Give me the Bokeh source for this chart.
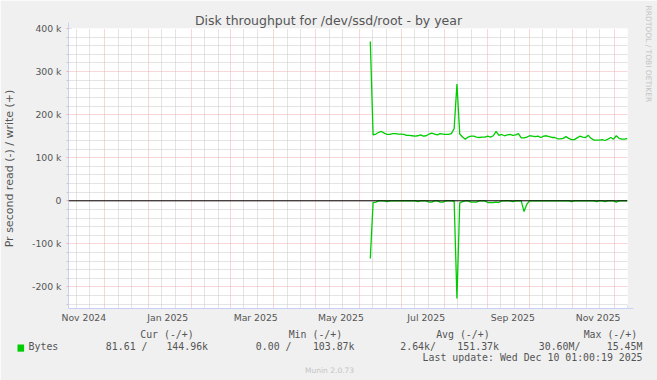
import numpy as np
import pandas as pd
from bokeh.plotting import figure
from bokeh.models import (FixedTicker, Grid, LinearAxis, Arrow, NormalHead, Label,
                          CustomJSTickFormatter, DatetimeTickFormatter, Range1d, Span)
from bokeh.embed import file_html
from bokeh.resources import INLINE

# ---------------- data ----------------
GRAPH_START = "2024-11-05 01:00:19"
GRAPH_END = "2025-12-10 01:00:19"
FIRST_SAMPLE = "2025-06-09"
SAMPLE_STEP = "2D"

# write (+) bytes/s, thousands
write_k = [370, 153, 155, 159, 161, 157, 154, 154, 156, 156,
           155, 155, 154, 152, 152, 151, 150, 151, 153, 150,
           151, 155, 157, 155, 153, 156, 155, 154, 154, 156,
           168, 271, 155, 148, 143, 148, 150, 150, 148, 147,
           148, 148, 150, 148, 151, 161, 152, 154, 151, 153,
           154, 152, 153, 156, 146, 146, 148, 151, 150, 149,
           150, 147, 150, 151, 149, 147, 147, 144, 144, 145,
           149, 145, 142, 142, 146, 150, 148, 147, 152, 145,
           141, 141, 141, 142, 140, 143, 147, 143, 151, 145,
           143, 143, 144.96]

# read (-) bytes/s, thousands (drawn negative)
read_k = [-134, -4, -3, -0.3, -0.3, -0.3, -2, -0.3, -0.3, -0.3,
          -0.3, -0.3, -0.3, -0.3, -0.3, -0.3, -0.3, -2, -0.3, -0.3,
          -0.3, -3, -3, -0.3, -0.3, -3, -3, -0.3, -0.3, -0.3,
          -0.5, -227, -5, -2, -0.3, -0.3, -3, -3, -3, -0.3,
          -0.3, -0.3, -4, -4, -4, -3, -4, -0.3, -0.3, -0.3,
          -0.3, -2, -0.3, -0.3, -0.3, -25, -8, -0.3, -0.3, -0.3,
          -0.3, -0.3, -0.3, -0.3, -0.3, -0.3, -0.3, -0.3, -0.3, -0.3,
          -0.3, -0.3, -2, -0.3, -0.3, -0.3, -0.3, -0.3, -0.3, -0.3,
          -0.3, -2, -0.3, -0.3, -2, -0.3, -0.3, -0.3, -3, -0.3,
          -0.3, -0.3, -0.08]

x_tick_dates = ["2024-11-16", "2025-01-15", "2025-03-19", "2025-05-19",
                "2025-07-19", "2025-09-19", "2025-11-19"]
y_ticks = [-200000, -100000, 0, 100000, 200000, 300000, 400000]
Y_MIN, Y_MAX = -250000, 400000

legend_header = ["Cur (-/+)", "Min (-/+)", "Avg (-/+)", "Max (-/+)"]
legend_name = "Bytes"
legend_values = ["81.61 /", "144.96k", "0.00 /", "103.87k",
                 "2.64k/", "151.37k", "30.60M/", "15.45M"]
title_text = "Disk throughput for /dev/ssd/root - by year"
ylabel_text = "Pr second read (-) / write (+)"
last_update = "Last update: Wed Dec 10 01:00:19 2025"
side_text = "RRDTOOL / TOBI OETIKER"
footer_text = "Munin 2.0.73"

# ---------------- layout constants (pixels) ----------------
W, H = 657, 380
FL, FR, FT, FB = 66, 30, 28, 72
GREEN = "#00CC00"
AXIS = "#C8D0F6"
FONT_COL = "#555555"
LIGHT = "#c4c4c4"
MONO = "DejaVu Sans Mono"
MONO_SIZE = "9.9px"
CW = 0.602 * 9.9  # monospace advance
NBSP = "\u00a0"

header_left = [138, 287, 435, 583]
value_anchor = [(103, "l"), (206, "r"), (254, "l"), (353, "r"),
                (399, "l"), (498, "r"), (538, "l"), (642, "r")]
NAME_LEFT = 26


def center_of(text, x, a):
    w = len(text) * CW
    return x + w / 2 if a == "l" else x - w / 2


def ms(d):
    return pd.Timestamp(d).value / 1e6


dates = pd.date_range(FIRST_SAMPLE, periods=len(write_k), freq=SAMPLE_STEP)
x0, x1 = ms(GRAPH_START), ms(GRAPH_END)

p = figure(width=W, height=H, x_axis_type="datetime",
           x_range=Range1d(x0, x1), y_range=Range1d(Y_MIN, Y_MAX),
           output_backend="svg", toolbar_location=None,
           min_border_left=FL, min_border_right=FR, min_border_top=FT, min_border_bottom=FB,
           background_fill_color="white", border_fill_color="#F0F0F0",
           outline_line_color=None)
p.extra_x_ranges = {"px": Range1d(FL, W - FR)}
p.xgrid.visible = False
p.ygrid.visible = False
xax = p.xaxis[0]
yax = p.yaxis[0]

# grid positions
month_starts = [ms(d) for d in pd.date_range("2024-11-01", "2025-12-31", freq="MS")]
minor_days = []
for d in pd.date_range("2024-11-01", "2025-12-31", freq="MS"):
    for k in (9.5, 19.3):
        minor_days.append(ms(d + pd.Timedelta(days=k)))
y_minor = [v for v in range(-240000, 400001, 20000) if v % 100000 != 0]

GRAY = "#c8c8c8"
RED = "#efb0b0"
for dim, ticks, col in [(0, minor_days, GRAY), (1, y_minor, GRAY),
                        (0, month_starts, RED), (1, y_ticks, RED)]:
    p.add_layout(Grid(dimension=dim, ticker=FixedTicker(ticks=ticks),
                      grid_line_color=col, grid_line_dash="1 1", grid_line_width=1))

# main axes
xax.ticker = FixedTicker(ticks=[ms(d) for d in x_tick_dates])
fmt = "%b %Y"
xax.formatter = DatetimeTickFormatter(
    microseconds=fmt, milliseconds=fmt, seconds=fmt, minsec=fmt, minutes=fmt,
    hourmin=fmt, hours=fmt, days=fmt, months=fmt, years=fmt)
yax.ticker = FixedTicker(ticks=y_ticks, minor_ticks=y_minor)
yax.formatter = CustomJSTickFormatter(
    code="return tick == 0 ? '0' : (tick/1000).toFixed(0) + ' k';")
for ax in (xax, yax):
    ax.axis_line_color = AXIS
    ax.major_label_text_font = "DejaVu Sans"
    ax.major_label_text_font_size = "9.3px"
    ax.major_label_text_color = FONT_COL
xax.major_tick_line_color = None
xax.minor_tick_line_color = None
xax.major_tick_out = 0
xax.major_tick_in = 0
xax.minor_tick_out = 0
xax.minor_tick_in = 0
xax.major_label_standoff = 3
yax.major_tick_line_color = RED
yax.major_tick_out = 2
yax.major_tick_in = 0
yax.minor_tick_line_color = GRAY
yax.minor_tick_out = 2
yax.minor_tick_in = 0
yax.major_label_standoff = 5
yax.axis_label = ylabel_text
yax.axis_label_text_font = "DejaVu Sans"
yax.axis_label_text_font_size = "11px"
yax.axis_label_text_font_style = "normal"
yax.axis_label_text_color = FONT_COL
yax.axis_label_standoff = 13

# data
p.line(dates, [v * 1000 for v in read_k], line_color=GREEN, line_width=1.3)
p.line(dates, [v * 1000 for v in write_k], line_color=GREEN, line_width=1.3)
p.add_layout(Span(location=0, dimension="width", line_color="black", line_width=1))

# axis arrows
px_day = (W - FL - FR) / 400.0
px_val = (H - FT - FB) / float(Y_MAX - Y_MIN)
head = dict(size=6, fill_color=AXIS, line_color=AXIS)
p.add_layout(Arrow(end=NormalHead(**head), x_start=x1, y_start=Y_MIN,
                   x_end=x1 + 6 / px_day * 86400000, y_end=Y_MIN,
                   line_color=AXIS, line_width=1))
p.add_layout(Arrow(end=NormalHead(**head), x_start=x0, y_start=Y_MAX,
                   x_end=x0, y_end=Y_MAX + 6 / px_val,
                   line_color=AXIS, line_width=1))


# text rows built from extra (label-only) axes so they are not clipped to the frame
def text_axis(positions, texts, font=MONO, size=MONO_SIZE, color=FONT_COL, standoff=0):
    ax = LinearAxis(x_range_name="px")
    ax.ticker = FixedTicker(ticks=list(positions))
    ax.formatter = CustomJSTickFormatter(
        args=dict(pos=list(positions), txt=list(texts)),
        code="const i = pos.indexOf(tick); return i < 0 ? '' : txt[i];")
    ax.major_label_text_font = font
    ax.major_label_text_font_size = size
    ax.major_label_text_color = color
    ax.major_label_standoff = standoff
    ax.major_tick_out = 0
    ax.major_tick_in = 0
    ax.minor_tick_out = 0
    ax.minor_tick_in = 0
    ax.major_tick_line_color = None
    ax.minor_tick_line_color = None
    ax.axis_line_color = None
    p.add_layout(ax, "below")
    return ax


# legend rows
text_axis([center_of(t, x, "l") for t, x in zip(legend_header, header_left)],
          legend_header, standoff=3)
# first cell holds the series name, padded to the first value column
gap = int(round((value_anchor[0][0] - NAME_LEFT) / CW)) - len(legend_name)
first_cell = legend_name + NBSP * gap + legend_values[0]
row_texts = [first_cell] + legend_values[1:]
row_pos = [NAME_LEFT + len(first_cell) * CW / 2] + \
          [center_of(t, x, a) for t, (x, a) in zip(legend_values[1:], value_anchor[1:])]
text_axis(row_pos, row_texts, standoff=-2)
text_axis([center_of(last_update, 642, "r")], [last_update], standoff=-3)
text_axis([328], [footer_text], font="DejaVu Sans", size="7.5px", color=LIGHT, standoff=0)


# free-standing texts live in side panels (not clipped to the frame)
def canvas_label(side, text, x, y, size, color=FONT_COL, font="DejaVu Sans",
                 align="center", angle=0.0, baseline="middle", **kw):
    lab = Label(x=x, y=y, x_units="canvas", y_units="canvas", text=text,
                text_font=font, text_font_size=size, text_color=color,
                text_align=align, text_baseline=baseline, angle=angle, **kw)
    p.add_layout(lab, side)
    return lab


canvas_label("above", title_text, 328, 19.5, "12.5px")
canvas_label("right", side_text, 648.3, 53.3, "7.5px", color=LIGHT, angle=-np.pi / 2)

# legend colour swatch
sw = dict(background_fill_color=GREEN, background_fill_alpha=1.0)
if "padding" in Label.properties():
    sw["padding"] = 3
canvas_label("above", NBSP, 17, 344, "1px", color=GREEN, font=MONO,
             align="left", baseline="top", **sw)

open("out.html", "w").write(file_html(p, INLINE))
